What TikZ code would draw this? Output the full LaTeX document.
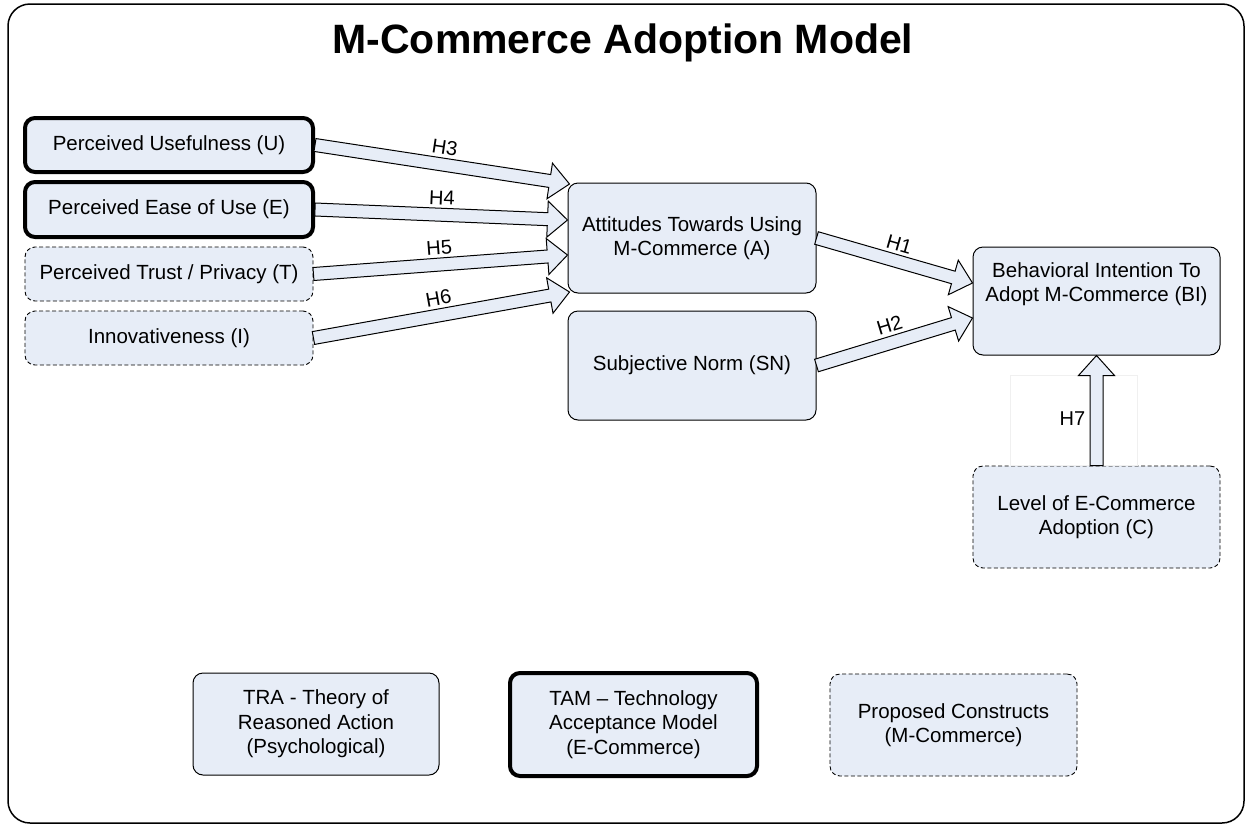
\documentclass[tikz,border=0pt]{standalone}
\usepackage{fontspec}
\setmainfont{Liberation Sans}
\usetikzlibrary{calc}
\definecolor{boxfill}{RGB}{231,237,247}
\tikzset{
  box/.style={draw, fill=boxfill, rounded corners=10pt, align=center, inner sep=0pt,
    font=\fontsize{20.5}{24.5}\selectfont, line width=1pt},
  thickbox/.style={box, line width=4pt},
  dashbox/.style={box, line width=0.9pt, dash pattern=on 4pt off 2.5pt},
  barrow/.style={draw, fill=boxfill, line width=1pt, line join=miter},
  hlabel/.style={font=\fontsize{20}{24}\selectfont, inner sep=0pt},
}
\newcommand\blockarrow[3]{%
  \coordinate (hb) at ($(#2)!20pt!(#1)$);
  \draw[barrow] ($(#1)!6.5pt!90:(#2)$) -- ($(hb)!6.5pt!90:(#2)$) -- ($(hb)!18pt!90:(#2)$)
    -- (#2) -- ($(hb)!18pt!-90:(#2)$) -- ($(hb)!6.5pt!-90:(#2)$) -- ($(#1)!6.5pt!-90:(#2)$) -- cycle;
  \path (#1) -- (#2) node[hlabel, pos=0.5, sloped, above=10pt] {#3};
}
\begin{document}
\begin{tikzpicture}[x=1pt,y=-1pt]
\useasboundingbox (0,0) rectangle (1247,825);
\draw[line width=1.5pt, rounded corners=22pt] (8,4) rectangle (1244,823);
\node[font=\fontsize{41}{48}\selectfont\bfseries] (title) at (623,43) {M-Commerce Adoption Model};

\node[thickbox, minimum width=288pt, minimum height=54pt] (U) at (169,145) {Perceived Usefulness (U)};
\node[thickbox, minimum width=288pt, minimum height=55pt] (E) at (169,209.5) {Perceived Ease of Use (E)};
\node[dashbox, minimum width=288pt, minimum height=54pt] (T) at (169,274) {Perceived Trust / Privacy (T)};
\node[dashbox, minimum width=288pt, minimum height=54pt] (I) at (169,338) {Innovativeness (I)};

\node[box, minimum width=248pt, minimum height=110pt] (A) at (692,238) {Attitudes Towards Using\\M-Commerce (A)};
\node[box, minimum width=248pt, minimum height=109pt] (SN) at (692,365.5) {Subjective Norm (SN)};
\node[box, minimum width=247pt, minimum height=108pt] (BI) at (1096.5,301) {};
\node[hlabel, align=center, font=\fontsize{20.5}{24.5}\selectfont] (BItext) at ($(BI.center)+(0,-17)$) {Behavioral Intention To\\Adopt M-Commerce (BI)};
\node[dashbox, minimum width=247pt, minimum height=102pt] (C) at (1096.5,517) {Level of E-Commerce\\Adoption (C)};

\node[box, minimum width=246pt, minimum height=102pt] (TRA) at (316,724) {TRA - Theory of\\Reasoned Action\\(Psychological)};
\node[thickbox, minimum width=247pt, minimum height=103pt] (TAM) at (633.5,724.5) {TAM -- Technology\\Acceptance Model\\(E-Commerce)};
\node[dashbox, minimum width=247pt, minimum height=102pt] (P) at (953.5,725) {Proposed Constructs\\(M-Commerce)};

% faint box behind H7
\draw[gray!12, line width=0.6pt] (1010,375) rectangle (1137,465);

\coordinate (tU) at ($(A.west)+(2,-54)$);
\coordinate (tE) at ($(A.west)+(0,-18)$);
\coordinate (tT) at ($(A.west)+(0,17)$);
\coordinate (tI) at ($(A.west)+(2,54)$);
\coordinate (tA) at ($(BI.west)+(0,-18)$);
\coordinate (tSN) at ($(BI.west)+(0,17)$);

\blockarrow{U.east}{tU}{H3}
\blockarrow{E.east}{tE}{H4}
\blockarrow{T.east}{tT}{H5}
\blockarrow{I.east}{tI}{H6}
\blockarrow{A.east}{tA}{H1}
\blockarrow{SN.east}{tSN}{H2}

\coordinate (hb7) at ($(BI.south)!20pt!(C.north)$);
\draw[barrow] ($(C.north)+(-6.5,0)$) -- ($(hb7)+(-6.5,0)$) -- ($(hb7)+(-18,0)$) -- (BI.south)
  -- ($(hb7)+(18,0)$) -- ($(hb7)+(6.5,0)$) -- ($(C.north)+(6.5,0)$) -- cycle;
\node[hlabel] (H7) at ($($(C.north)!0.5!(BI.south)$)+(-24,8)$) {H7};
\end{tikzpicture}
\end{document}
